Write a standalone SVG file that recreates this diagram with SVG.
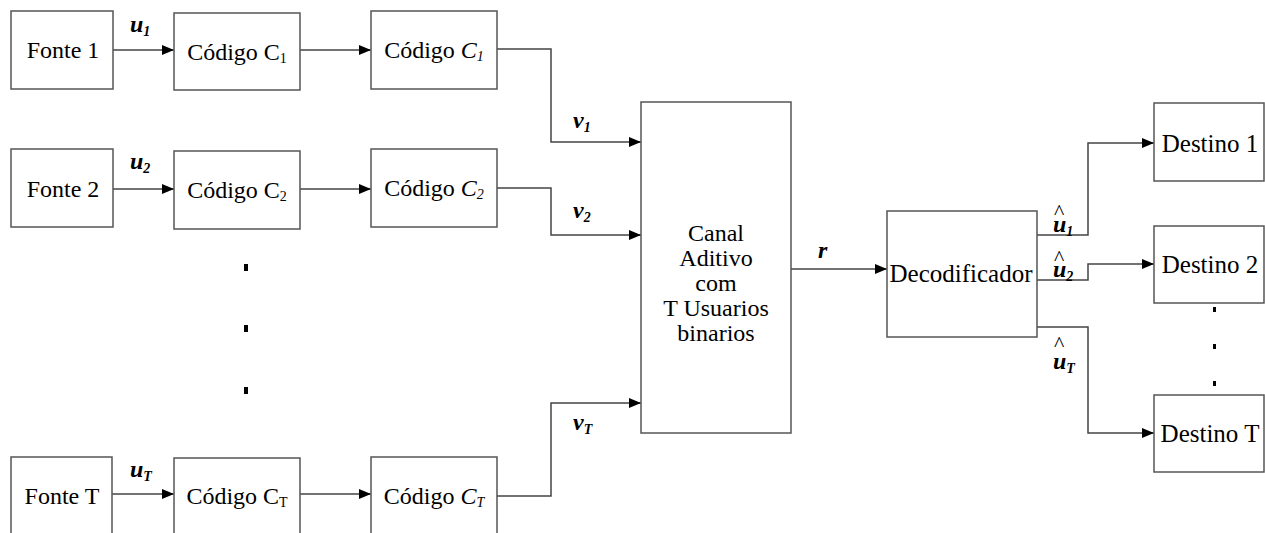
<svg xmlns="http://www.w3.org/2000/svg" width="1265" height="533" viewBox="0 0 1265 533">
<style>
.box{fill:#fff;stroke:#555;stroke-width:1.5}
.ln{fill:none;stroke:#444;stroke-width:1.5}
.t{font-size:24px;text-anchor:middle}
.lb{font-size:24px;font-weight:bold;font-style:italic}
.sub{font-size:14px}
.hat{font-size:22px;font-weight:normal;font-style:normal}
.dot{fill:#000}
</style>
<defs>
<marker id="ah" markerWidth="12" markerHeight="10" refX="12" refY="5" orient="auto" markerUnits="userSpaceOnUse">
<path d="M0,0 L12,5 L0,10 Z" fill="#000"/>
</marker>
</defs>
<rect width="1265" height="533" fill="#fff"/>

<g id="connectors">
<line class="ln" x1="113" y1="50" x2="174" y2="50" marker-end="url(#ah)"/>
<line class="ln" x1="300" y1="50" x2="371" y2="50" marker-end="url(#ah)"/>
<polyline class="ln" points="497,49 551,49 551,142 641,142" marker-end="url(#ah)"/>
<line class="ln" x1="113" y1="189" x2="174" y2="189" marker-end="url(#ah)"/>
<line class="ln" x1="300" y1="189" x2="371" y2="189" marker-end="url(#ah)"/>
<polyline class="ln" points="497,188 551,188 551,235 641,235" marker-end="url(#ah)"/>
<line class="ln" x1="112" y1="494" x2="174" y2="494" marker-end="url(#ah)"/>
<line class="ln" x1="300" y1="494" x2="371" y2="494" marker-end="url(#ah)"/>
<polyline class="ln" points="497,496 551,496 551,403 641,403" marker-end="url(#ah)"/>
<line class="ln" x1="791" y1="269" x2="887" y2="269" marker-end="url(#ah)"/>
<polyline class="ln" points="1037,235 1088,235 1088,143 1154,143" marker-end="url(#ah)"/>
<polyline class="ln" points="1037,280 1088,280 1088,264 1154,264" marker-end="url(#ah)"/>
<polyline class="ln" points="1037,327 1088,327 1088,433 1154,433" marker-end="url(#ah)"/>
</g>

<g font-family="Liberation Serif, serif" fill="#000">
<g id="labels">
<text class="lb" x="130" y="32">u<tspan class="sub" dy="4">1</tspan></text>
<text class="lb" x="130" y="169">u<tspan class="sub" dy="4">2</tspan></text>
<text class="lb" x="130" y="477">u<tspan class="sub" dy="4">T</tspan></text>
<text class="lb" x="573" y="128">v<tspan class="sub" dy="4">1</tspan></text>
<text class="lb" x="573" y="218">v<tspan class="sub" dy="4">2</tspan></text>
<text class="lb" x="573" y="430">v<tspan class="sub" dy="4">T</tspan></text>
<text class="lb" x="818" y="258">r</text>
<text class="lb"><tspan class="hat" x="1054" y="219">^</tspan><tspan x="1053" y="232">u</tspan><tspan class="sub" dy="4">1</tspan></text>
<text class="lb"><tspan class="hat" x="1054" y="265">^</tspan><tspan x="1053" y="277">u</tspan><tspan class="sub" dy="4">2</tspan></text>
<text class="lb"><tspan class="hat" x="1054" y="351">^</tspan><tspan x="1053" y="369">u</tspan><tspan class="sub" dy="4">T</tspan></text>
</g>

<g id="fonte1"><rect class="box" x="11" y="11" width="102" height="78"/><text class="t" x="63" y="58">Fonte 1</text></g>
<g id="codigo1"><rect class="box" x="174" y="13" width="126" height="77"/><text class="t" x="237" y="60">Código C<tspan class="sub" dy="3">1</tspan></text></g>
<g id="codigoI1"><rect class="box" x="371" y="11" width="126" height="78"/><text class="t" x="434" y="58">Código <tspan font-style="italic">C</tspan><tspan class="sub" font-style="italic" dy="3">1</tspan></text></g>

<g id="fonte2"><rect class="box" x="11" y="149" width="102" height="78"/><text class="t" x="63" y="197">Fonte 2</text></g>
<g id="codigo2"><rect class="box" x="174" y="151" width="126" height="78"/><text class="t" x="237" y="198">Código C<tspan class="sub" dy="3">2</tspan></text></g>
<g id="codigoI2"><rect class="box" x="371" y="149" width="126" height="78"/><text class="t" x="434" y="196">Código <tspan font-style="italic">C</tspan><tspan class="sub" font-style="italic" dy="3">2</tspan></text></g>

<g id="fonteT"><rect class="box" x="11" y="457" width="101" height="90"/><text class="t" x="62" y="504">Fonte T</text></g>
<g id="codigoT"><rect class="box" x="174" y="458" width="126" height="90"/><text class="t" x="237" y="504">Código C<tspan class="sub" dy="3">T</tspan></text></g>
<g id="codigoIT"><rect class="box" x="371" y="457" width="126" height="90"/><text class="t" x="434" y="504">Código <tspan font-style="italic">C</tspan><tspan class="sub" font-style="italic" dy="3">T</tspan></text></g>

<g id="canal"><rect class="box" x="641" y="102" width="150" height="331"/>
<text class="t" x="716" y="241">Canal</text>
<text class="t" x="716" y="266">Aditivo</text>
<text class="t" x="716" y="291">com</text>
<text class="t" x="716" y="316">T Usuarios</text>
<text class="t" x="716" y="341">binarios</text>
</g>

<g id="decodificador"><rect class="box" x="887" y="211" width="150" height="126"/><text class="t" x="961" y="282" style="font-size:25px">Decodificador</text></g>

<g id="destino1"><rect class="box" x="1154" y="103" width="110" height="78"/><text class="t" x="1210" y="152" style="font-size:25px">Destino 1</text></g>
<g id="destino2"><rect class="box" x="1154" y="226" width="110" height="77"/><text class="t" x="1210" y="273" style="font-size:25px">Destino 2</text></g>
<g id="destinoT"><rect class="box" x="1154" y="395" width="110" height="77"/><text class="t" x="1210" y="442" style="font-size:25px">Destino T</text></g>
</g>

<g id="dots-left">
<rect class="dot" x="244" y="264" width="4" height="7"/>
<rect class="dot" x="244" y="325" width="4" height="7"/>
<rect class="dot" x="244" y="387" width="4" height="7"/>
</g>

<g id="dots-right">
<rect class="dot" x="1213" y="307" width="3" height="5"/>
<rect class="dot" x="1213" y="344" width="3" height="5"/>
<rect class="dot" x="1213" y="381" width="3" height="5"/>
</g>
</svg>
